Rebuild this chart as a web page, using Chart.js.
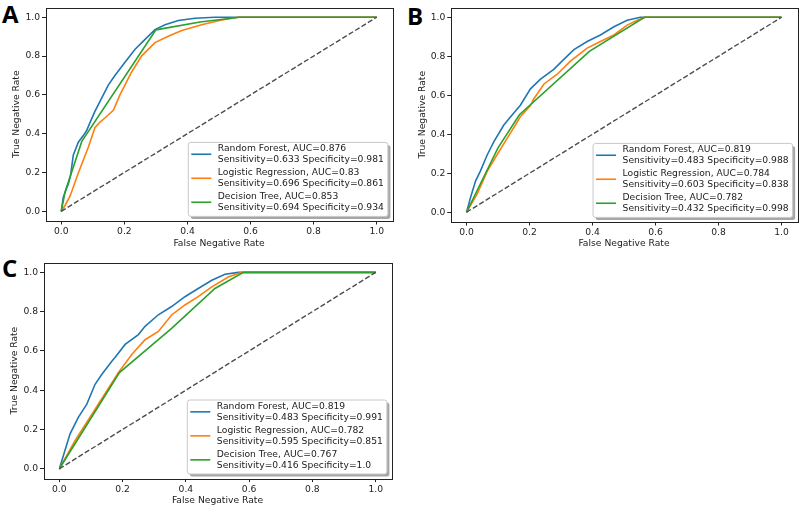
<!DOCTYPE html>
<html>
<head>
<meta charset="utf-8">
<script src="https://cdn.jsdelivr.net/npm/chart.js@4.4.0/dist/chart.umd.min.js"></script>
<style>
  body { margin: 0; background: #fff; width: 800px; height: 509px; position: relative; overflow: hidden; }
  canvas { position: absolute; }
  .tag { position: absolute; font: bold 24px "Open Sans"; line-height: 24px; color: #000; }
</style>
</head>
<body>
<div class="tag" style="left:2px;top:2px">A</div>
<div class="tag" style="left:407px;top:4px">B</div>
<div class="tag" style="left:2px;top:256px">C</div>
<canvas id="cA" width="400" height="252" style="left:0;top:0"></canvas>
<canvas id="cB" width="400" height="252" style="left:400px;top:0"></canvas>
<canvas id="cC" width="400" height="254" style="left:0;top:255px"></canvas>
<script>
// ROC points [false negative rate, true negative rate]
const rfA = [[0,0],[0.006,0.07],[0.017,0.12],[0.022,0.138],[0.03,0.19],[0.038,0.289],[0.054,0.356],[0.07,0.39],[0.08,0.415],[0.091,0.457],[0.107,0.516],[0.128,0.583],[0.149,0.65],[0.17,0.70],[0.202,0.768],[0.234,0.835],[0.26,0.877],[0.297,0.936],[0.329,0.961],[0.371,0.983],[0.424,0.995],[0.487,1.0],[1,1]];
const lrA = [[0,0],[0.012,0.03],[0.028,0.079],[0.054,0.197],[0.086,0.331],[0.107,0.432],[0.123,0.46],[0.139,0.482],[0.165,0.52],[0.186,0.6],[0.223,0.718],[0.255,0.801],[0.297,0.869],[0.339,0.902],[0.382,0.932],[0.445,0.961],[0.509,0.986],[0.561,1.0],[1,1]];
const dtA = [[0,0],[0.012,0.1],[0.065,0.36],[0.30,0.935],[0.44,0.975],[0.565,1.0],[1,1]];

const rfB = [[0,0],[0.002,0.01],[0.013,0.077],[0.029,0.161],[0.044,0.211],[0.066,0.295],[0.087,0.362],[0.118,0.446],[0.14,0.49],[0.171,0.549],[0.203,0.633],[0.235,0.683],[0.277,0.733],[0.309,0.784],[0.341,0.834],[0.383,0.876],[0.425,0.909],[0.468,0.951],[0.51,0.985],[0.552,1.0],[1,1]];
const lrB = [[0,0],[0.034,0.094],[0.066,0.211],[0.097,0.295],[0.129,0.379],[0.161,0.463],[0.171,0.49],[0.203,0.547],[0.214,0.582],[0.246,0.658],[0.288,0.708],[0.33,0.775],[0.383,0.842],[0.425,0.876],[0.468,0.909],[0.51,0.96],[0.542,0.985],[0.568,1.0],[1,1]];
const dtB = [[0,0],[0.1,0.33],[0.168,0.5],[0.39,0.825],[0.565,1.0],[1,1]];

const rfC = [[0,0],[0.002,0.01],[0.018,0.094],[0.034,0.178],[0.06,0.262],[0.087,0.329],[0.113,0.43],[0.134,0.48],[0.166,0.547],[0.176,0.566],[0.208,0.633],[0.25,0.683],[0.271,0.725],[0.313,0.784],[0.355,0.826],[0.397,0.876],[0.439,0.918],[0.482,0.96],[0.524,0.99],[0.566,1.0],[1,1]];
const lrC = [[0,0],[0.05,0.144],[0.092,0.25],[0.187,0.49],[0.229,0.582],[0.271,0.657],[0.313,0.699],[0.355,0.783],[0.397,0.834],[0.439,0.876],[0.482,0.926],[0.534,0.976],[0.577,1.0],[1,1]];
const dtC = [[0,0],[0.092,0.237],[0.19,0.49],[0.355,0.715],[0.492,0.918],[0.582,1.0],[1,1]];

const chance = [[0,0],[1,1]];
const tickVals = [0, 0.2, 0.4, 0.6, 0.8, 1.0];

const legendA = [
  ['Random Forest, AUC=0.876', 'Sensitivity=0.633 Specificity=0.981'],
  ['Logistic Regression, AUC=0.83', 'Sensitivity=0.696 Specificity=0.861'],
  ['Decision Tree, AUC=0.853', 'Sensitivity=0.694 Specificity=0.934']
];
const legendB = [
  ['Random Forest, AUC=0.819', 'Sensitivity=0.483 Specificity=0.988'],
  ['Logistic Regression, AUC=0.784', 'Sensitivity=0.603 Specificity=0.838'],
  ['Decision Tree, AUC=0.782', 'Sensitivity=0.432 Specificity=0.998']
];
const legendC = [
  ['Random Forest, AUC=0.819', 'Sensitivity=0.483 Specificity=0.991'],
  ['Logistic Regression, AUC=0.782', 'Sensitivity=0.595 Specificity=0.851'],
  ['Decision Tree, AUC=0.767', 'Sensitivity=0.416 Specificity=1.0']
];

const colors = ['#1f77b4', '#ff7f0e', '#2ca02c'];
const FS = 9.2;
const FONT = '"DejaVu Sans"';
const INK = '#222';

// legend box in the lower right corner (two text lines per entry) + axes frame
const boxLegend = {
  id: 'boxLegend',
  afterDraw(chart) {
    const { ctx, chartArea: a } = chart;
    const items = chart.data.datasets.filter(d => d.legendLines);
    ctx.save();
    ctx.font = FS + 'px ' + FONT;
    let tw = 0;
    items.forEach(d => d.legendLines.forEach(t => { tw = Math.max(tw, ctx.measureText(t).width); }));
    const w = 29.5 + tw + 4, h = 74;
    const x = a.right - 4.6 - w, y = a.bottom - 4.6 - h;

    ctx.fillStyle = 'rgba(0,0,0,0.35)';
    ctx.beginPath(); ctx.roundRect(x + 2.5, y + 2.5, w, h, 2.5); ctx.fill();
    ctx.fillStyle = '#fff';
    ctx.beginPath(); ctx.roundRect(x, y, w, h, 2.5); ctx.fill();
    ctx.strokeStyle = '#c8c8c8'; ctx.lineWidth = 1; ctx.stroke();

    ctx.textBaseline = 'middle';
    items.forEach((d, i) => {
      const ty = y + 6.5 + i * 24;
      ctx.strokeStyle = d.borderColor; ctx.lineWidth = d.borderWidth;
      ctx.beginPath(); ctx.moveTo(x + 3, ty + 5.35); ctx.lineTo(x + 23, ty + 5.35); ctx.stroke();
      ctx.fillStyle = INK;
      d.legendLines.forEach((t, j) => ctx.fillText(t, x + 29.5, ty + j * 10.7));
    });

    ctx.strokeStyle = INK; ctx.lineWidth = 1;
    ctx.strokeRect(Math.round(a.left) + 0.5, Math.round(a.top) + 0.5, Math.round(a.width), Math.round(a.height));
    ctx.restore();
  }
};

function axis(title, size, titlePad, horizontal) {
  return {
    type: 'linear',
    min: -0.05, max: 1.05,
    afterBuildTicks: s => { s.ticks = tickVals.map(v => ({ value: v })); },
    afterFit: s => { if (horizontal) s.height = size; else s.width = size; },
    grid: { display: true, drawOnChartArea: false, drawTicks: true, tickLength: 3.5, color: INK, lineWidth: 1 },
    border: { display: false },
    ticks: { padding: 2, color: INK, font: { family: FONT, size: FS }, callback: v => v.toFixed(1) },
    title: { display: true, text: title, color: INK, font: { family: FONT, size: FS }, padding: titlePad }
  };
}

function makePanel(id, curves, legend, g) {
  const datasets = curves.map((pts, i) => ({
    label: legend[i][0],
    legendLines: legend[i],
    data: pts.map(p => ({ x: p[0], y: p[1] })),
    borderColor: colors[i],
    borderWidth: 1.6,
    order: 4 - i
  }));
  datasets.push({
    label: 'chance',
    data: chance.map(p => ({ x: p[0], y: p[1] })),
    borderColor: '#4d4d4d',
    borderWidth: 1.4,
    borderDash: [5.2, 2.3],
    order: 1
  });
  return new Chart(document.getElementById(id), {
    type: 'scatter',
    data: { datasets },
    options: {
      responsive: false,
      animation: false,
      devicePixelRatio: 1,
      showLine: true,
      elements: { point: { radius: 0 }, line: { tension: 0 } },
      layout: { padding: { left: 0, top: g.top, right: g.right, bottom: 0 } },
      plugins: { legend: { display: false }, tooltip: { enabled: false } },
      scales: {
        x: axis('False Negative Rate', g.xh, { top: 0, bottom: 2.5 }, true),
        y: axis('True Negative Rate', g.yw, { top: g.yw - 34, bottom: 0 }, false)
      }
    },
    plugins: [boxLegend]
  });
}

makePanel('cA', [rfA, lrA, dtA], legendA, { yw: 45.5, top: 2.5, right: 7.5, xh: 31 });
makePanel('cB', [rfB, lrB, dtB], legendB, { yw: 50.75, top: 4, right: 2.75, xh: 30 });
makePanel('cC', [rfC, lrC, dtC], legendC, { yw: 43.5, top: 5, right: 8.5, xh: 30.4 });
</script>
</body>
</html>
